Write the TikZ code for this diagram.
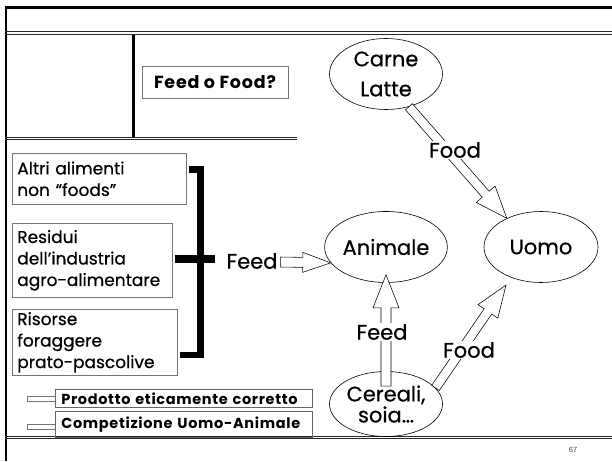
\documentclass[tikz,border=0pt]{standalone}
\usepackage{fontspec}
\setmainfont{Poppins}[UprightFeatures={FakeBold=0.6}]
\newfontfamily\tagfont{Poppins}[LetterSpace=4.5, UprightFont=* Bold]
\newfontfamily\numfont{Liberation Sans}
\usetikzlibrary{calc,shapes.geometric}

\tikzset{
  framerule/.style={line width=2.4pt, black},
  dblrule/.style={line width=0.9pt, black!85},
  srcbox/.style={draw=black!55, line width=0.6pt, anchor=north west, align=left,
    inner xsep=5pt, inner ysep=0pt, font=\fontsize{17}{21.5}\selectfont},
  ovalnode/.style={ellipse, draw, line width=0.6pt, minimum width=113pt,
    minimum height=71pt, inner sep=0pt, align=center, font=\fontsize{21}{30}\selectfont},
  flowlabel/.style={fill=white, inner sep=1pt, font=\fontsize{21}{24}\selectfont},
  arrowline/.style={draw=black, fill=white, line width=0.55pt, line join=miter},
  tagbox/.style={draw=black!60, line width=0.8pt, anchor=north west, align=left,
    inner xsep=6pt, inner ysep=0pt, font=\tagfont\fontsize{14.5}{16}\selectfont},
  tabbox/.style={draw=black!55, line width=0.6pt},
  bracketbar/.style={fill=black},
}

% block arrow: start, tip, shaft half width, head half width, head length
\newcommand{\blockarr}[5]{%
  \coordinate (bah) at ($(#2)!#5!(#1)$);
  \draw[arrowline] ($(#1)!#3!90:(#2)$) -- ($(bah)!#3!90:(#2)$) -- ($(bah)!#4!90:(#2)$)
    -- (#2) -- ($(bah)!#4!-90:(#2)$) -- ($(bah)!#3!-90:(#2)$) -- ($(#1)!#3!-90:(#2)$) -- cycle;}

\begin{document}
\begin{tikzpicture}[x=1pt, y=-1pt]
\useasboundingbox (0,0) rectangle (612,461);

% frame
\draw[framerule] (5,7.5) -- (612,7.5);
\draw[framerule] (6.2,6.3) -- (6.2,461);
\draw[dblrule] (5,31.8) -- (612,31.8);
\draw[dblrule] (5,34.5) -- (612,34.5);
\draw[line width=2.6pt] (133.3,34.5) -- (133.3,137);
\draw[dblrule] (5,137) -- (297,137);
\draw[dblrule] (5,139.7) -- (297,139.7);
\draw[dblrule] (5,436) -- (612,436);
\draw[dblrule] (5,438.7) -- (612,438.7);

% title box
\node[draw=black!55, line width=0.6pt, minimum width=146pt, minimum height=32pt, inner sep=0pt,
  font=\tagfont\fontsize{17.5}{20}\selectfont] (question) at (215,82) {Feed o Food?};

% source boxes
\node[srcbox, text width=164pt, minimum height=51pt] (altri) at (12,153) {Altri alimenti\\non “foods”};
\node[srcbox, text width=150pt, minimum height=74pt] (residui) at (12,223) {Residui\\dell’industria\\agro-alimentare};
\node[srcbox, text width=155pt, minimum height=66pt] (risorse) at (12,309) {Risorse\\foraggere\\prato-pascolive};

% bracket
\fill[bracketbar] (197,166) rectangle (204,358);
\fill[bracketbar] (189,166) rectangle (204,173);
\fill[bracketbar] (180,352) rectangle (204,358);
\fill[bracketbar] (175,255) rectangle (215,263);

% ellipses
\node[ovalnode] (carne) at (386,74) {Carne\\Latte};
\node[ovalnode] (animale) at (386,247) {Animale};
\node[ovalnode, minimum width=114pt] (uomo) at (541,247) {Uomo};
\node[ovalnode, minimum height=65pt, font=\fontsize{21}{21}\selectfont] (cereali) at (386,404) {Cereali,\\soia…};

% horizontal feed
\node[flowlabel] (feedL) at (252,261) {Feed};
\coordinate (feedStart) at ($(feedL.east)+(2,1)$);
\blockarr{feedStart}{animale.196}{5pt}{10pt}{28pt}

% arrows
\coordinate (uomoTop) at (uomo.140);
\blockarr{carne.-55}{uomoTop}{4.6pt}{12.5pt}{32pt}
\coordinate (animaleIn) at ($(animale.south)+(0,-8)$);
\coordinate (cerealiTop) at ($(cereali.north)+(0,15)$);
\blockarr{cerealiTop}{animaleIn}{5pt}{13pt}{33pt}
\coordinate (uomoBot) at ($(uomo.center)+(-35,38)$);
\blockarr{cereali.18}{uomoBot}{4.6pt}{12pt}{32pt}

% arrow labels
\node[flowlabel] (foodTop) at (455,150) {Food};
\node[flowlabel] (feedV) at (382,332) {Feed};
\node[flowlabel] (foodBot) at (469,350) {Food};

% bottom tags
\draw[tabbox] (27,396) rectangle (55,401);
\draw[tabbox] (27,424) rectangle (55,429);
\node[tagbox, text width=245pt, minimum height=18pt] (etico) at (55,389) {Prodotto eticamente corretto};
\node[tagbox, text width=245pt, minimum height=26pt] (compet) at (55,411) {Competizione Uomo-Animale};

% page number
\node[font=\numfont\fontsize{7.5}{9}\selectfont, text=black!75] (pagenum) at (573,450) {67};
\end{tikzpicture}
\end{document}
